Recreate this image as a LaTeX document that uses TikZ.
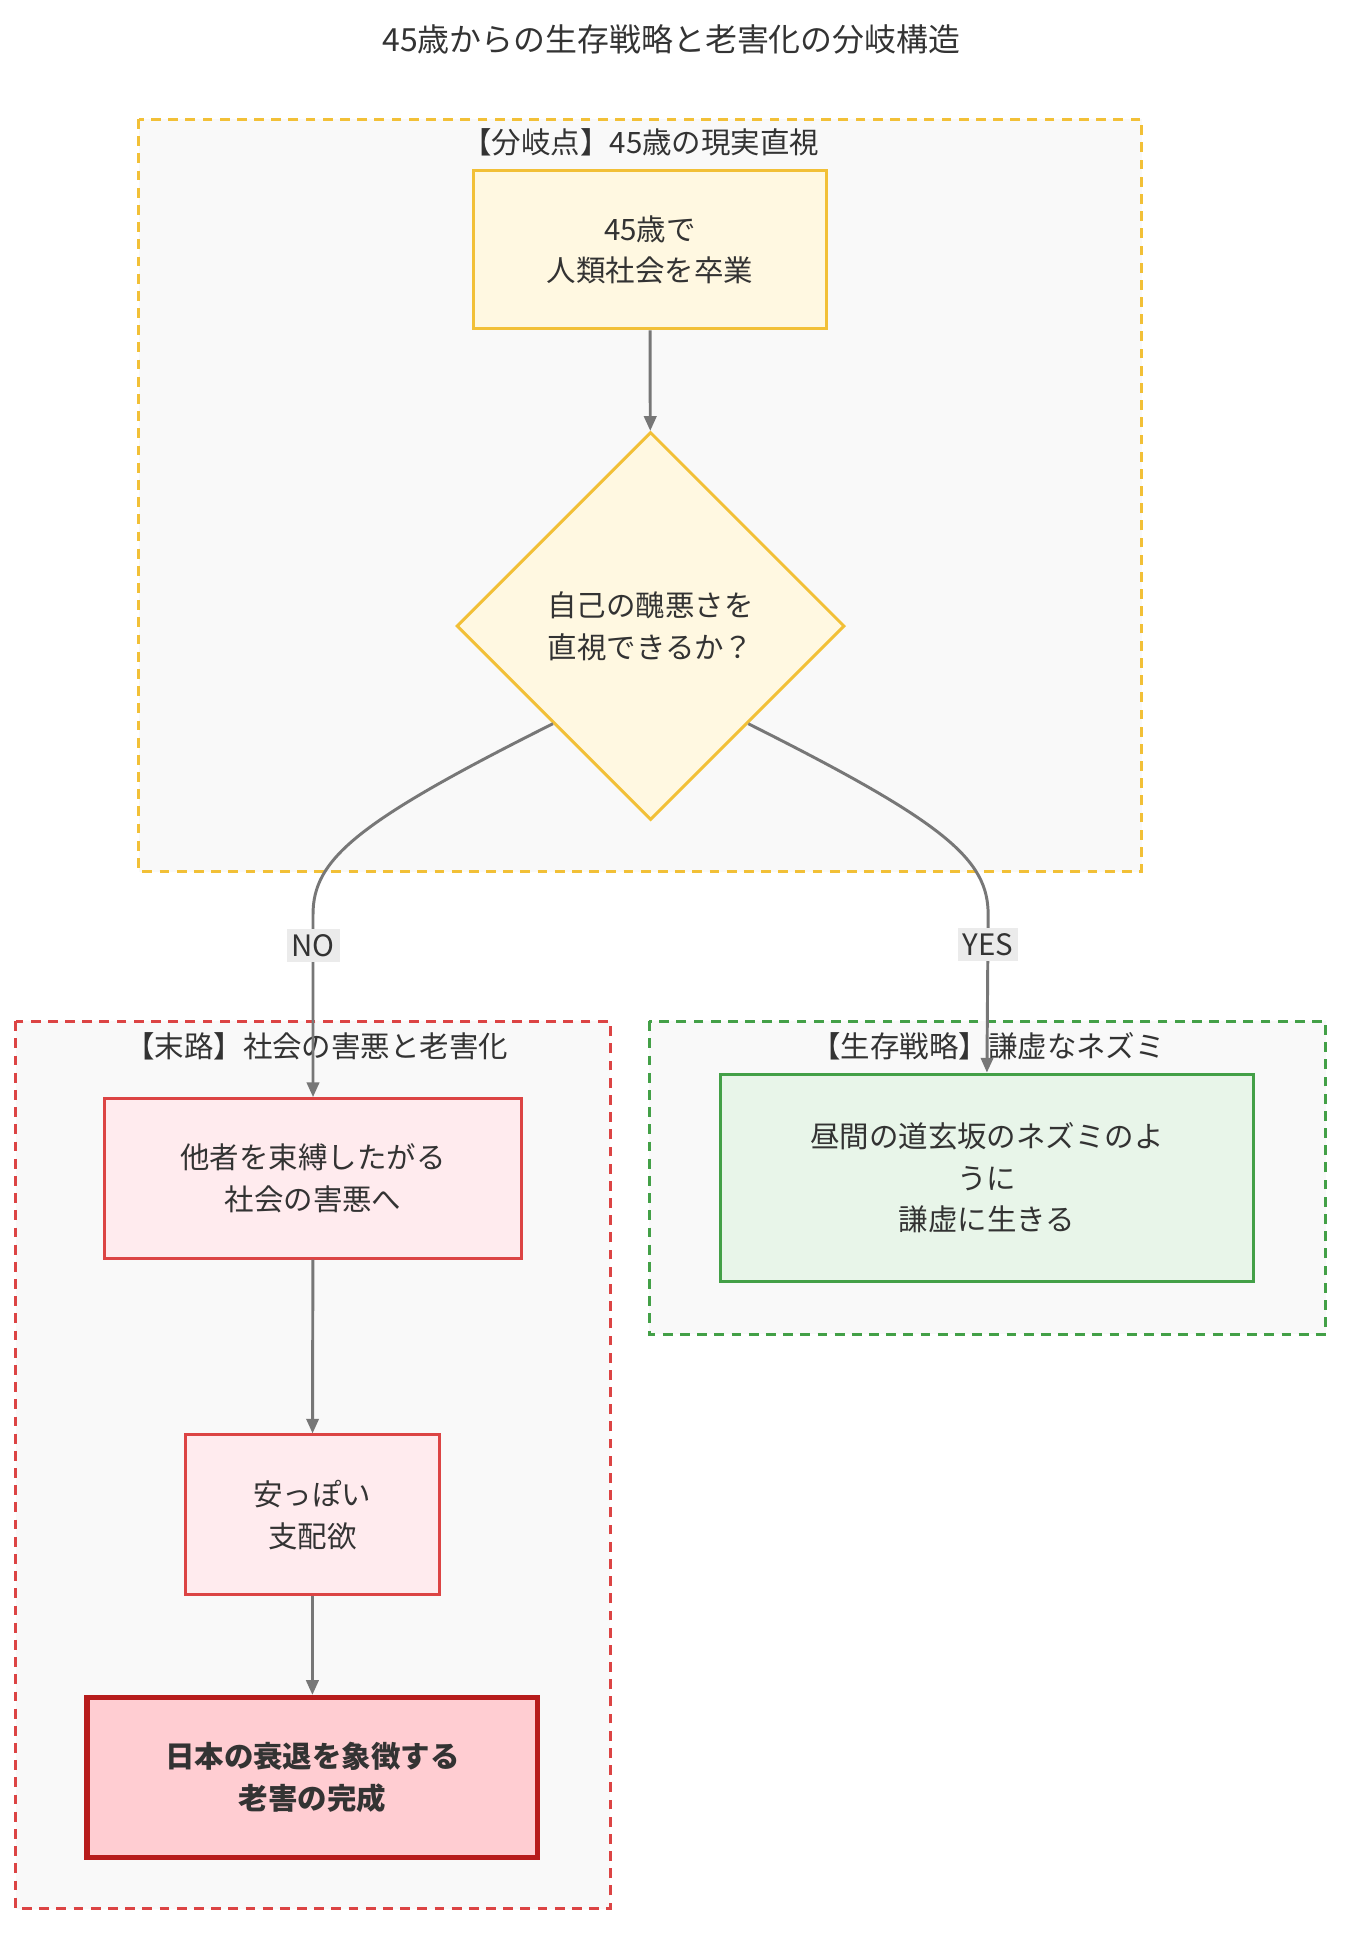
\documentclass[tikz,border=0pt]{standalone}
\usepackage{fontspec}
\setmainfont{Noto Sans CJK JP}
\usetikzlibrary{shapes.geometric,arrows.meta,positioning}
\definecolor{ylwline}{HTML}{F2C037}
\definecolor{ylwfill}{HTML}{FFF8E1}
\definecolor{redline}{HTML}{DC4444}
\definecolor{redfill}{HTML}{FFEBEE}
\definecolor{endline}{HTML}{B71C1C}
\definecolor{endfill}{HTML}{FFCDD2}
\definecolor{grnline}{HTML}{43A047}
\definecolor{grnfill}{HTML}{E8F5E9}
\definecolor{clsfill}{HTML}{F9F9F9}
\definecolor{arrgray}{HTML}{777777}

\begin{document}
\begin{tikzpicture}[
			x=0.5pt, y=-0.5pt,
			every node/.style={font=\fontsize{12}{17}\selectfont, text=black!80, align=center},
			cluster/.style={dashed, line width=1.2pt, dash pattern=on 4pt off 3pt, fill=clsfill},
			phase/.style={rectangle, draw, line width=1.2pt, inner sep=0pt},
			ask/.style={diamond, draw=ylwline, fill=ylwfill, line width=1.2pt, minimum width=158pt, minimum height=158pt, inner sep=0pt},
			arrow/.style={draw=arrgray, line width=1.2pt, -{Triangle[length=6pt,width=5pt]}},
			tag/.style={fill=black!8, inner sep=2pt}
			]
			\useasboundingbox (0,0) rectangle (1100,1578);
			
			% title
			\node (title) at (547,32) {\fontsize{13}{16}\selectfont 45歳からの生存戦略と老害化の分岐構造};
			
			% clusters
			\draw [cluster, draw=ylwline] (113,97) rectangle (930,710);
			\node (ctop) at (522,116) {【分岐点】45歳の現実直視};
			\draw [cluster, draw=redline] (13,832) rectangle (497,1555);
			\node (cend) at (258,852) {【末路】社会の害悪と老害化};
			\draw [cluster, draw=grnline] (529,832) rectangle (1080,1087);
			\node (cwin) at (805,852) {【生存戦略】謙虚なネズミ};
			
			% nodes
			\node (grad) [phase, draw=ylwline, fill=ylwfill, minimum width=143.5pt, minimum height=64.5pt] at (529.5,203.5) {45歳で\\人類社会を卒業};
			\node (face) [ask] at (530,510) {自己の醜悪さを\\直視できるか？};
			\node (bind) [phase, draw=redline, fill=redfill, minimum width=170pt, minimum height=65pt] at (255,960) {他者を束縛したがる\\社会の害悪へ};
			\node (rule) [phase, draw=redline, fill=redfill, minimum width=103.5pt, minimum height=65pt] at (254.5,1234) {安っぽい\\支配欲};
			\node (doom) [phase, draw=endline, fill=endfill, line width=2.2pt, minimum width=183.5pt, minimum height=65pt, font=\fontsize{12}{17}\selectfont\bfseries] at (254.5,1448) {日本の衰退を象徴する\\老害の完成};
			\node (rat) [phase, draw=grnline, fill=grnfill, minimum width=217pt, minimum height=84.5pt] at (804,959.5) {昼間の道玄坂のネズミのよ\\うに\\謙虚に生きる};
			
			% connectors
			\draw [arrow] (grad) -- (face);
			\draw [arrow] (face.south west) .. controls (290,670) and (255,700) .. (255,745) -- node [tag, pos=0.17] {NO} (bind.north);
			\draw [arrow] (face.south east) .. controls (770,670) and (805,700) .. (805,745) -- node [tag, pos=0.19] {YES} (rat.north);
			\draw [arrow] (bind) -- (rule);
			\draw [arrow] (rule) -- (doom);
			
		\end{tikzpicture}
\end{document}
